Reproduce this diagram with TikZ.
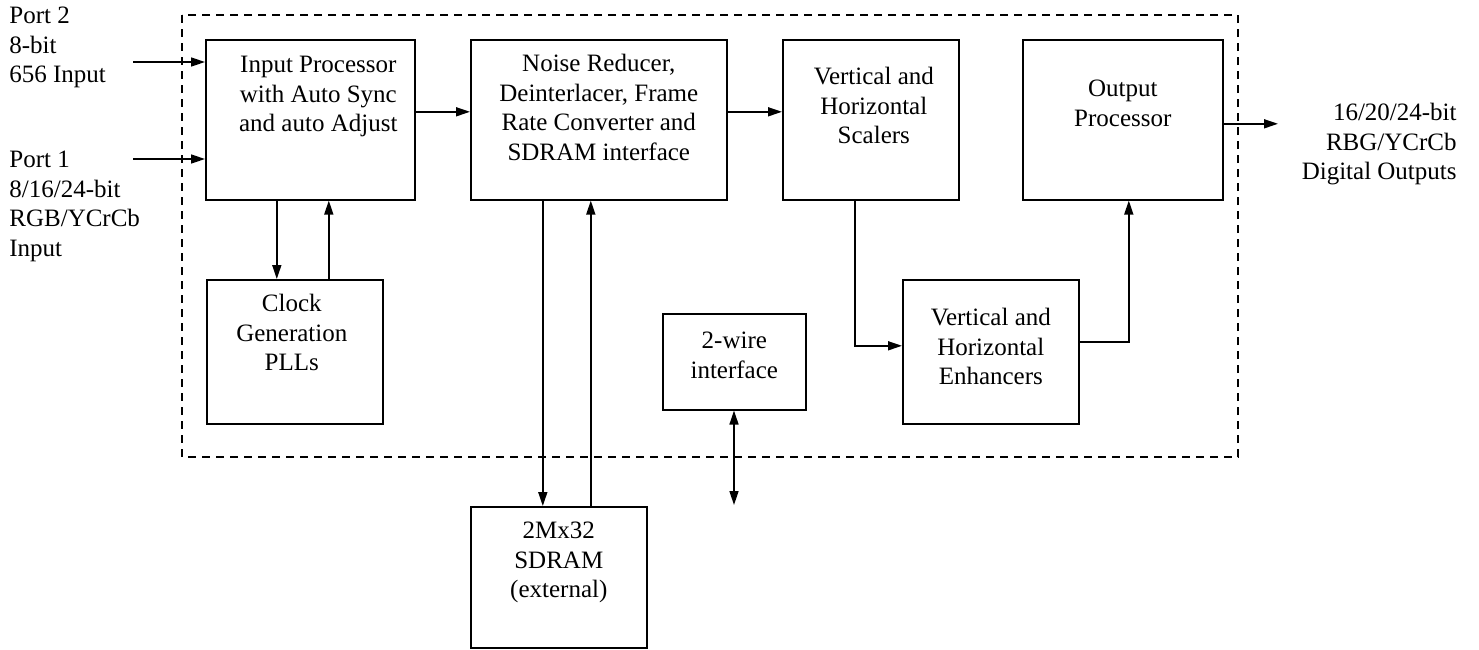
\documentclass[tikz,border=0pt]{standalone}
\usepackage{fontspec}
\setmainfont{Liberation Serif}
\usetikzlibrary{arrows.meta, positioning}

\begin{document}
\begin{tikzpicture}[
  x=0.5pt, y=-0.5pt,
  font=\fontsize{12.5pt}{14.75pt}\selectfont,
  block/.style={rectangle, draw, line width=0.8pt, anchor=north west, inner sep=0pt},
  inlbl/.style={anchor=north, align=center, inner sep=0pt},
  port/.style={inner sep=0pt},
  arrow/.style={-{Triangle[length=7pt, width=4.5pt]}, line width=0.8pt},
  biarrow/.style={{Triangle[length=7pt, width=4.5pt]}-{Triangle[length=7pt, width=4.5pt]}, line width=0.8pt},
  frame/.style={line width=0.8pt, dash pattern=on 4pt off 3pt}
]
\useasboundingbox (0,0) rectangle (1479,649);

% chip outline
\draw[frame] (182,15) rectangle (1238,457);

% blocks
\node[block, minimum width=104.5pt, minimum height=80pt,
  label={[inlbl, xshift=4pt, yshift=-8.5pt]north:{Input Processor\\with Auto Sync\\and auto Adjust}}] (ip) at (205,39) {};
\node[block, minimum width=128pt, minimum height=80pt,
  label={[inlbl, yshift=-7.5pt]north:{Noise Reducer,\\Deinterlacer, Frame\\Rate Converter and\\SDRAM interface}}] (nr) at (470,39) {};
\node[block, minimum width=88pt, minimum height=80pt,
  label={[inlbl, xshift=1.5pt, yshift=-14pt]north:{Vertical and\\Horizontal\\Scalers}}] (sc) at (782,39) {};
\node[block, minimum width=100pt, minimum height=80pt,
  label={[inlbl, yshift=-20.5pt]north:{Output\\Processor}}] (op) at (1022,39) {};
\node[block, minimum width=88pt, minimum height=72pt,
  label={[inlbl, xshift=-1.5pt, yshift=-7.5pt]north:{Clock\\Generation\\PLLs}}] (clk) at (206,279) {};
\node[block, minimum width=71.5pt, minimum height=48pt,
  label={[inlbl, yshift=-9.5pt]north:{2-wire\\interface}}] (tw) at (662,313) {};
\node[block, minimum width=88pt, minimum height=72pt,
  label={[inlbl, yshift=-14.5pt]north:{Vertical and\\Horizontal\\Enhancers}}] (enh) at (902,279) {};
\node[block, minimum width=88pt, minimum height=70.5pt,
  label={[inlbl, yshift=-8pt]north:{2Mx32\\SDRAM\\(external)}}] (sd) at (470,506) {};

% ports
\node[port, anchor=north west, align=left] (p2txt) at (9,7) {Port 2\\8-bit\\656 Input};
\node[port, anchor=north west, align=left] (p1txt) at (9,151) {Port 1\\8/16/24-bit\\RGB/YCrCb\\Input};
\node[port, anchor=north east, align=right] (outtxt) at (1457,103) {16/20/24-bit\\RBG/YCrCb\\Digital Outputs};

\coordinate (p2) at (133,62);
\coordinate (p1) at (133,159);
\coordinate (out) at (1278,123);
\coordinate (twend) at (734,505);

% connections
\draw[arrow] (p2) -- (p2 -| ip.west);
\draw[arrow] (p1) -- (p1 -| ip.west);
\draw[arrow] ([yshift=4pt]ip.east) -- ([yshift=4pt]ip.east -| nr.west);
\draw[arrow] ([yshift=4pt]nr.east) -- ([yshift=4pt]nr.east -| sc.west);
\draw[arrow] ([yshift=-2pt]op.east) -- ([yshift=-2pt]op.east -| out);

\draw[arrow] ([xshift=-16.75pt]ip.south) -- ([xshift=-16.75pt]ip.south |- clk.north);
\draw[arrow] ([xshift=9.25pt]ip.south |- clk.north) -- ([xshift=9.25pt]ip.south);

\draw[arrow] ([xshift=-28pt]nr.south) -- ([xshift=-28pt]nr.south |- sd.north);
\draw[arrow] ([xshift=-4pt]nr.south |- sd.north) -- ([xshift=-4pt]nr.south);

\draw[biarrow] (tw.south -| twend) -- (twend);

\draw[arrow] ([xshift=-8pt]sc.south) |- ([yshift=3pt]enh.west);
\draw[arrow] ([yshift=5pt]enh.east) -| ([xshift=3pt]op.south);
\end{tikzpicture}
\end{document}
